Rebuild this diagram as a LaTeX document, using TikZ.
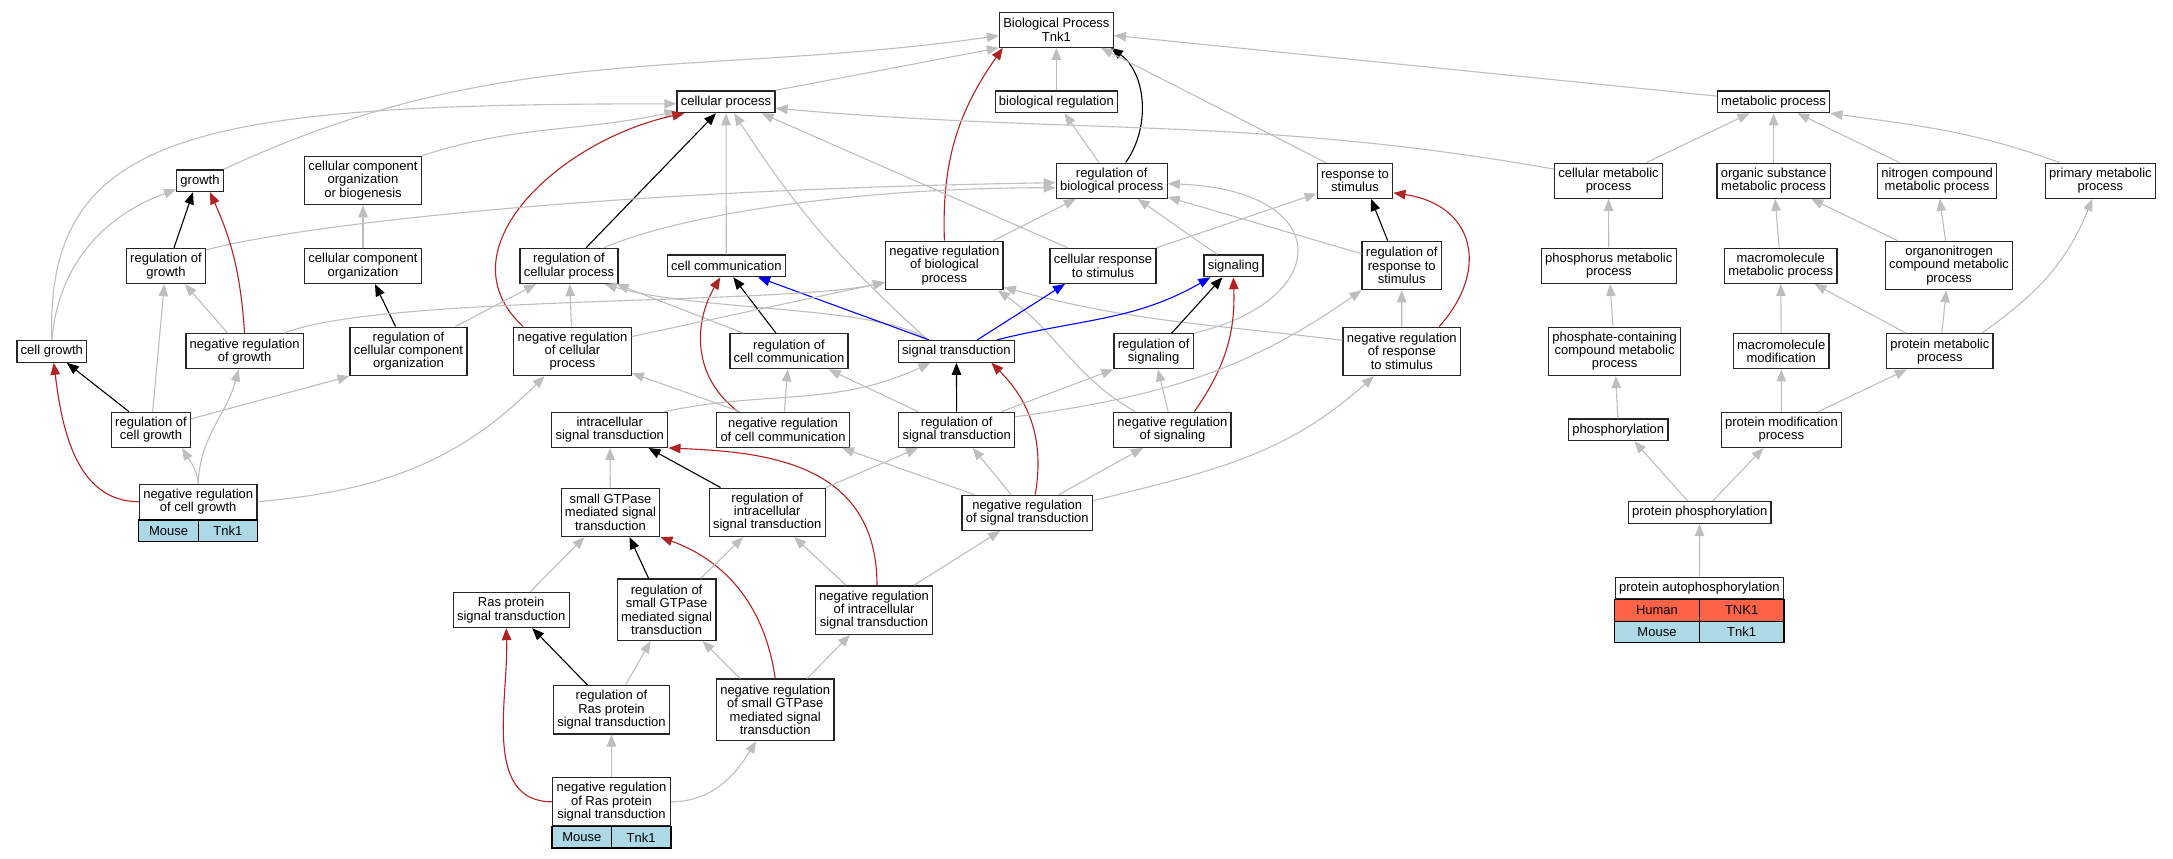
\documentclass[tikz,border=0pt]{standalone}
\usepackage{fontspec}
\setmainfont{Liberation Sans}
\usetikzlibrary{arrows.meta}

\definecolor{isagrey}{HTML}{BEBEBE}
\definecolor{firebrick}{HTML}{B22222}
\definecolor{tomato}{HTML}{FF6347}
\definecolor{lightblue}{HTML}{ADD8E6}
\newcommand{\termfont}{\fontsize{13}{13.3}\selectfont}

% one species/gene row under a term box
\newcommand{\generow}[5]{%
  \draw[cell, fill=#3] ([yshift=-#2]#1.south west) rectangle ([yshift=-#2-21.5pt]#1.south);
  \draw[cell, fill=#3] ([yshift=-#2]#1.south) rectangle ([yshift=-#2-21.5pt]#1.south east);
  \path ([yshift=-#2]#1.south west) -- ([yshift=-#2-21.5pt]#1.south) node[midway, font=\termfont] (#1-#4) {#4};
  \path ([yshift=-#2]#1.south) -- ([yshift=-#2-21.5pt]#1.south east) node[midway, font=\termfont] (#1-#5) {#5};
}

\begin{document}
\begin{tikzpicture}[x=1pt,y=1pt]
\tikzset{term/.style = {draw=black!85, line width=1.3pt, fill=white, align=center, font=\termfont,
                        inner xsep=3.8pt, inner ysep=0pt, minimum height=21.7pt},
         rows2/.style = {minimum height=35pt},
         rows3/.style = {minimum height=48.3pt},
         rows4/.style = {minimum height=61.4pt},
         cell/.style = {draw=black, line width=1.3pt},
         isa/.style = {->, >={Triangle[length=12pt,width=9.5pt]}, draw=isagrey, line width=1.1pt},
         reg/.style = {isa, draw=black},
         negreg/.style = {isa, draw=firebrick},
         partof/.style = {isa, draw=blue}}
\useasboundingbox (0,0) rectangle (2173,-859);

% terms
\node[term, rows2] (bp) at (1056.4,-29.7) {Biological Process\\Tnk1};
\node[term] (cp) at (726,-101.8) {cellular process};
\node[term] (breg) at (1056.4,-101.8) {biological regulation};
\node[term] (mp) at (1773.6,-101.8) {metabolic process};
\node[term] (growth) at (200,-180.7) {growth};
\node[term, rows3] (ccob) at (363,-180.5) {cellular component\\organization\\or biogenesis};
\node[term, rows2] (rbp) at (1111.7,-180.7) {regulation of\\biological process};
\node[term, rows2] (rs) at (1355,-180.7) {response to\\stimulus};
\node[term, rows2] (cmp) at (1608.5,-180.7) {cellular metabolic\\process};
\node[term, rows2] (osmp) at (1773.6,-180.7) {organic substance\\metabolic process};
\node[term, rows2] (ncmp) at (1937.1,-180.7) {nitrogen compound\\metabolic process};
\node[term, rows2] (pmp) at (2100.4,-180.7) {primary metabolic\\process};
\node[term, rows2] (rg) at (166,-266) {regulation of\\growth};
\node[term, rows2] (cco) at (363,-266) {cellular component\\organization};
\node[term, rows2] (rcp) at (569,-266) {regulation of\\cellular process};
\node[term] (cc) at (726.3,-265.8) {cell communication};
\node[term, rows3] (nrbp) at (944.4,-265.5) {negative regulation\\of biological\\process};
\node[term, rows2] (crs) at (1103,-265.8) {cellular response\\to stimulus};
\node[term] (sig) at (1233.4,-265.8) {signaling};
\node[term, rows3] (rrs) at (1401.7,-265.5) {regulation of\\response to\\stimulus};
\node[term, rows2] (phmp) at (1608.8,-265.8) {phosphorus metabolic\\process};
\node[term, rows2] (mmp) at (1780.7,-265.8) {macromolecule\\metabolic process};
\node[term, rows3] (oncmp) at (1949,-265.5) {organonitrogen\\compound metabolic\\process};
\node[term] (cg) at (51.8,-351.3) {cell growth};
\node[term, rows2] (nrg) at (244.6,-351.3) {negative regulation\\of growth};
\node[term, rows3] (rcco) at (408.5,-351.3) {regulation of\\cellular component\\organization};
\node[term, rows3] (nrcp) at (572.5,-351.3) {negative regulation\\of cellular\\process};
\node[term, rows2] (rcc) at (789,-351.3) {regulation of\\cell communication};
\node[term] (st) at (956.4,-351.3) {signal transduction};
\node[term, rows2] (rsig) at (1153.6,-351.3) {regulation of\\signaling};
\node[term, rows3] (nrrs) at (1401.8,-351.3) {negative regulation\\of response\\to stimulus};
\node[term, rows3] (pcmp) at (1614.6,-351.3) {phosphate-containing\\compound metabolic\\process};
\node[term, rows2] (mm) at (1781.2,-351.3) {macromolecule\\modification};
\node[term, rows2] (prmp) at (1939.8,-351.3) {protein metabolic\\process};
\node[term, rows2] (rcg) at (151,-429.8) {regulation of\\cell growth};
\node[term, rows2] (ist) at (609.8,-429.8) {intracellular\\signal transduction};
\node[term, rows2] (nrcc) at (783,-429.8) {negative regulation\\of cell communication};
\node[term, rows2] (rst) at (956.7,-429.8) {regulation of\\signal transduction};
\node[term, rows2] (nrsig) at (1172.4,-429.7) {negative regulation\\of signaling};
\node[term] (phos) at (1618.3,-429.8) {phosphorylation};
\node[term, rows2] (pmod) at (1781.4,-429.8) {protein modification\\process};
\node[term, rows2] (nrcg) at (198.2,-501.7) {negative regulation\\of cell growth};
\node[term, rows3] (sg) at (610.5,-512.3) {small GTPase\\mediated signal\\transduction};
\node[term, rows3] (rist) at (767.2,-512.3) {regulation of\\intracellular\\signal transduction};
\node[term, rows2] (nrst) at (1027.2,-512.7) {negative regulation\\of signal transduction};
\node[term] (pp) at (1699.7,-512.5) {protein phosphorylation};
\node[term, rows2] (ras) at (511.2,-610) {Ras protein\\signal transduction};
\node[term, rows4] (rsg) at (666.6,-609.7) {regulation of\\small GTPase\\mediated signal\\transduction};
\node[term, rows3] (nrist) at (874,-610) {negative regulation\\of intracellular\\signal transduction};
\node[term] (pap) at (1699.3,-588.2) {protein autophosphorylation};
\node[term, rows3] (rras) at (611.5,-709.8) {regulation of\\Ras protein\\signal transduction};
\node[term, rows4] (nrsg) at (775.2,-709.8) {negative regulation\\of small GTPase\\mediated signal\\transduction};
\node[term, rows3] (nrras) at (611.5,-801.8) {negative regulation\\of Ras protein\\signal transduction};

% annotated genes
\generow{nrcg}{0pt}{lightblue}{Mouse}{Tnk1}
\generow{pap}{0pt}{tomato}{Human}{TNK1}
\generow{pap}{21.5pt}{lightblue}{Mouse}{Tnk1}
\generow{nrras}{0pt}{lightblue}{Mouse}{Tnk1}

% into Biological Process
\draw[isa] (growth.north east) to[out=25,in=188] ([yshift=-6pt]bp.west);
\draw[isa] (cp.north east) -- (bp.south west);
\draw[negreg] (nrbp.north) to[out=92,in=235] ([xshift=4pt]bp.south west);
\draw[isa] (breg) -- (bp);
\draw[reg] ([xshift=14pt]rbp.north) .. controls (1152,-125) and (1145,-72) .. ([xshift=-3pt]bp.south east);
\draw[isa] ([xshift=9pt]rs.north west) -- ([xshift=-13pt]bp.south east);
\draw[isa] (mp) -- (bp);

% into cellular process
\draw[isa] (cg.north) .. controls (45,-130) and (200,-104) .. ([yshift=-2pt]cp.west);
\draw[isa] (ccob.north east) to[out=18,in=192] ([yshift=2pt]cp.south west);
\draw[negreg] ([xshift=10pt]nrcp.north west) .. controls (440,-250) and (560,-140) .. ([xshift=8pt]cp.south west);
\draw[reg] ([xshift=17pt]rcp.north) -- ([xshift=-10pt]cp.south);
\draw[isa] (cc) -- (cp);
\draw[isa] ([xshift=30pt]st.north west) to[out=138,in=-57] ([xshift=8pt]cp.south);
\draw[isa] ([xshift=18pt]crs.north west) -- ([xshift=-14pt]cp.south east);
\draw[isa] ([yshift=-6.5pt]cmp.north west) to[out=170,in=-5] ([yshift=-6.5pt]cp.east);

% regulation of biological process
\draw[isa] (rbp) -- (breg);
\draw[isa] ([yshift=-2pt]rg.north east) .. controls (300,-225) and (600,-190) .. ([yshift=-2pt]rbp.west);
\draw[isa] ([xshift=-15pt]rcp.north east) .. controls (680,-215) and (850,-188) .. ([yshift=-7pt]rbp.west);
\draw[isa] (nrbp) -- (rbp);
\draw[isa] (sig) -- (rbp);
\draw[isa] (rsig.north east) .. controls (1335,-300) and (1335,-190) .. ([yshift=-3pt]rbp.east);
\draw[isa] (rrs) -- (rbp);

% response to stimulus
\draw[isa] (crs) -- (rs);
\draw[reg] ([xshift=-14pt]rrs.north) -- ([xshift=16pt]rs.south);
\draw[negreg] ([xshift=-22pt]nrrs.north east) .. controls (1490,-270) and (1475,-205) .. ([yshift=6pt]rs.south east);

% metabolic process
\draw[isa] (cmp) -- (mp);
\draw[isa] (osmp) -- (mp);
\draw[isa] (ncmp) -- (mp);
\draw[isa] ([xshift=15pt]pmp.north west) to[out=160,in=-8] (mp.south east);

% growth
\draw[isa] (cg.north) to[out=85,in=200] (growth.200);
\draw[reg] ([xshift=8pt]rg.north) -- ([xshift=-7pt]growth.south);
\draw[negreg] (nrg.north) to[out=94,in=-66] ([xshift=10pt]growth.south);

% cellular component organization
\draw[isa] (cco) -- (ccob);
\draw[reg] ([xshift=-13pt]rcco.north) -- ([xshift=12pt]cco.south);

% regulation of growth
\draw[isa] (rcg) -- (rg);
\draw[isa] ([xshift=-17pt]nrg.north) -- ([xshift=19pt]rg.south);

% regulation of cellular process
\draw[isa] ([xshift=-12pt]rcco.north east) -- ([xshift=-33pt]rcp.south);
\draw[isa] (nrcp) -- (rcp);
\draw[isa] ([xshift=14pt]rcc.north west) -- ([xshift=-2pt]rcp.south east);
\draw[isa] ([xshift=30pt]st.north west) .. controls (880,-305) and (700,-312) .. ([xshift=-14pt]rcp.south east);

% cell communication
\draw[partof] ([xshift=31pt]st.north west) -- ([xshift=-28pt]cc.south east);
\draw[reg] ([xshift=-13pt]rcc.north) -- ([xshift=7pt]cc.south);
\draw[negreg] ([xshift=22pt]nrcc.north west) .. controls (690,-375) and (695,-320) .. ([xshift=-6pt]cc.south);

% negative regulation of biological process
\draw[isa] ([yshift=-10pt]nrcp.north east) -- ([yshift=8pt]nrbp.south west);
\draw[isa] ([xshift=-20pt]nrg.north east) .. controls (380,-295) and (780,-305) .. ([yshift=8pt]nrbp.south west);
\draw[isa] ([xshift=22pt]nrsig.north west) to[out=150,in=-35] ([xshift=-6pt]nrbp.south east);
\draw[isa] ([yshift=11pt]nrrs.west) to[out=173,in=-15] ([yshift=3pt]nrbp.south east);

% cellular response to stimulus, signaling
\draw[partof] ([xshift=21pt]st.north) -- ([xshift=-38pt]crs.south);
\draw[partof] ([xshift=-18pt]st.north east) to[out=14,in=-150] ([xshift=-23pt]sig.south);
\draw[reg] ([xshift=18pt]rsig.north) -- ([xshift=-11pt]sig.south);
\draw[negreg] ([xshift=22pt]nrsig.north) to[out=55,in=-88] (sig.south);

% regulation of cell communication
\draw[isa] ([xshift=20pt]rst.north west) -- ([xshift=-20pt]rcc.south east);
\draw[isa] (nrcc) -- (rcc);

% signal transduction
\draw[isa] ([xshift=-4pt]ist.north east) to[out=12,in=-155] ([xshift=-26pt]st.south);
\draw[reg] (rst) -- (st);
\draw[negreg] ([xshift=8pt]nrst.north) to[out=80,in=-45] ([xshift=35pt]st.south);

% regulation of signaling
\draw[isa] ([xshift=-14pt]rst.north east) -- (rsig.south west);
\draw[isa] (nrsig) -- (rsig);

% regulation of response to stimulus
\draw[isa] (nrrs) -- (rrs);
\draw[isa] ([yshift=13pt]rst.east) to[out=8,in=-145] (rrs.south west);
\draw[isa] ([yshift=12pt]nrst.east) to[out=14,in=-138] ([xshift=-28pt]nrrs.south);

% metabolic branch
\draw[isa] (phmp) -- (cmp);
\draw[isa] (mmp) -- (osmp);
\draw[isa] (oncmp) -- (osmp);
\draw[isa] (oncmp) -- (ncmp);
\draw[isa] (pcmp) -- (phmp);
\draw[isa] (mm) -- (mmp);
\draw[isa] (prmp) -- (mmp);
\draw[isa] (prmp) -- (oncmp);
\draw[isa] ([xshift=-12pt]prmp.north east) to[out=35,in=-112] ([xshift=-8pt]pmp.south);
\draw[isa] (phos) -- (pcmp);
\draw[isa] (pmod) -- (mm);
\draw[isa] ([xshift=-24pt]pmod.north east) -- ([xshift=21pt]prmp.south west);
\draw[isa] ([xshift=-12pt]pp.north) -- ([xshift=16pt]phos.south);
\draw[isa] ([xshift=13pt]pp.north) -- ([xshift=-18pt]pmod.south);
\draw[isa] (pap) -- (pp);

% cell growth branch
\draw[reg] ([xshift=-22pt]rcg.north) -- ([xshift=15pt]cg.south);
\draw[isa] ([yshift=11pt]rcg.east) -- (rcco.south west);
\draw[negreg] (nrcg.west) to[out=180,in=-83] ([xshift=2pt]cg.south);
\draw[isa] (nrcg.north) to[out=95,in=-60] ([xshift=-9pt]rcg.south east);
\draw[isa] (nrcg.north) to[out=88,in=-105] ([xshift=-6pt]nrg.south);
\draw[isa] (nrcg.east) to[out=5,in=-135] ([xshift=-28pt]nrcp.south);

% intracellular signal transduction
\draw[isa] (sg) -- (ist);
\draw[reg] ([xshift=12pt]rist.north west) -- ([xshift=-20pt]ist.south east);
\draw[negreg] ([xshift=3pt]nrist.north) .. controls (877,-460) and (760,-452) .. (ist.south east);
\draw[isa] ([xshift=24pt]nrcc.north west) -- ([yshift=3pt]nrcp.south east);
\draw[isa] ([xshift=13pt]nrst.north west) -- ([xshift=-8pt]nrcc.south east);
\draw[isa] ([xshift=-16pt]nrst.north) -- ([xshift=16pt]rst.south);
\draw[isa] (rist.north east) -- ([xshift=20pt]rst.south west);
\draw[isa] ([xshift=-34pt]nrst.north east) -- ([xshift=30pt]nrsig.south west);

% small GTPase branch
\draw[reg] ([xshift=-18pt]rsg.north) -- ([xshift=19pt]sg.south);
\draw[negreg] (nrsg.north) to[out=98,in=-20] (sg.south east);
\draw[isa] ([xshift=19pt]ras.north) -- ([xshift=-26pt]sg.south);
\draw[isa] ([xshift=34pt]rsg.north) -- ([xshift=-24pt]rist.south);
\draw[isa] ([xshift=-28pt]nrist.north) -- ([xshift=27pt]rist.south);
\draw[isa] ([xshift=40pt]nrist.north) -- ([xshift=-27pt]nrst.south);

% Ras branch
\draw[reg] ([xshift=-24pt]rras.north) -- ([xshift=21pt]ras.south);
\draw[negreg] (nrras.west) to[out=180,in=-88] ([xshift=-5pt]ras.south);
\draw[isa] ([xshift=-35pt]nrsg.north) -- ([xshift=36pt]rsg.south);
\draw[isa] ([xshift=14pt]rras.north) -- ([xshift=-16pt]rsg.south);
\draw[isa] ([xshift=32pt]nrsg.north) -- ([xshift=-24pt]nrist.south);
\draw[isa] (nrras) -- (rras);
\draw[isa] (nrras.east) to[out=0,in=-122] ([xshift=-19pt]nrsg.south);
\end{tikzpicture}
\end{document}
